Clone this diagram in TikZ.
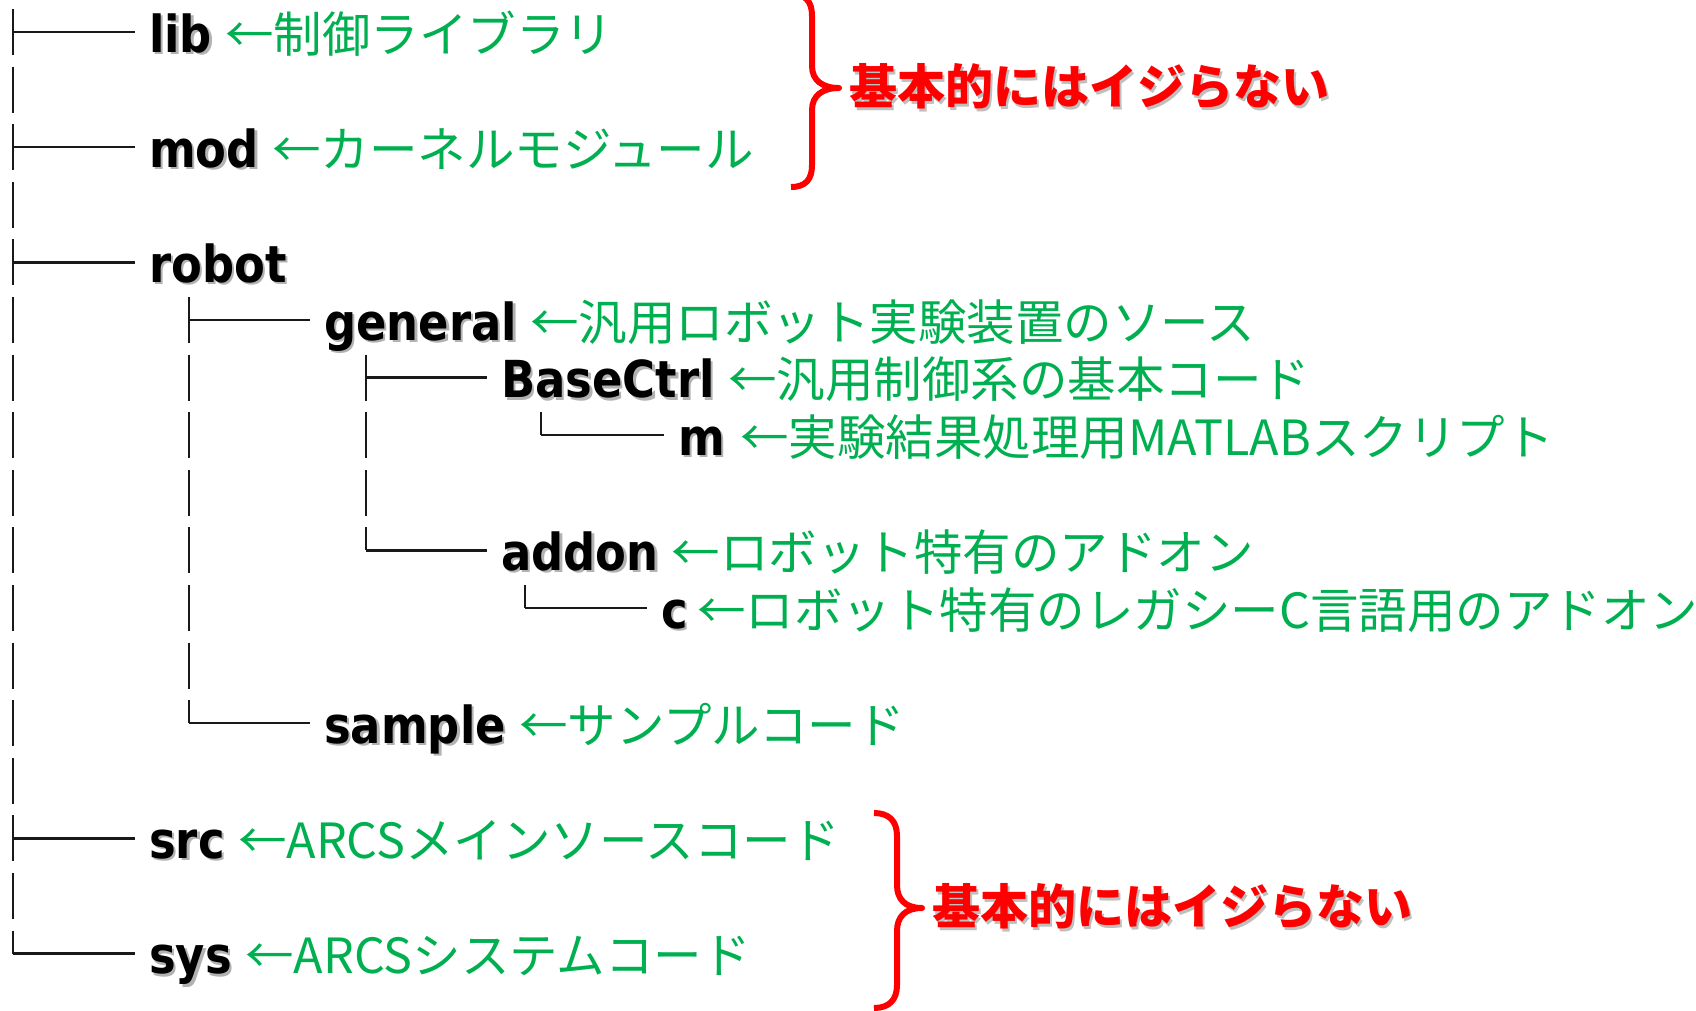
\documentclass[tikz,border=0pt]{standalone}
\usepackage{fontspec}
\newfontfamily\lblfont[FakeStretch=0.88]{DejaVu Sans}
\newfontfamily\jpfont{Noto Sans CJK JP}
\definecolor{tgreen}{HTML}{00B050}
\definecolor{tred}{HTML}{FF0000}
\newcommand{\shadowtext}[2]{\rlap{\kern2.5pt\raisebox{-2.5pt}{\color{#1}#2}}#2}
\tikzset{
  dirlabel/.style={font=\lblfont\bfseries\fontsize{51}{60}\selectfont, text=black, inner sep=0pt, anchor=base west},
  notelabel/.style={font=\jpfont\fontsize{48.5}{56}\selectfont, text=tgreen, inner sep=0pt, anchor=base west},
  warnlabel/.style={font=\jpfont\bfseries\fontsize{48}{56}\selectfont, text=tred, inner sep=0pt, anchor=west},
  trunk/.style={line width=2.5pt, draw=black!90, dash pattern=on 46pt off 11.6pt},
  branch/.style={line width=2.5pt, draw=black!90, shorten >=14pt},
  bracepath/.style={line width=6pt, draw=tred, line join=round},
}
\begin{document}
\begin{tikzpicture}[x=1pt,y=-1pt]
\useasboundingbox (0,0) rectangle (1696,1010);

% directory labels
\node[dirlabel] (lib)      at (149,52)    {\shadowtext{black!30}{lib}};
\node[dirlabel] (mod)      at (149,167.2) {\shadowtext{black!30}{mod}};
\node[dirlabel] (robot)    at (149,282.4) {\shadowtext{black!30}{robot}};
\node[dirlabel] (general)  at (324,340)   {\shadowtext{black!30}{general}};
\node[dirlabel] (basectrl) at (501,397.6) {\shadowtext{black!30}{BaseCtrl}};
\node[dirlabel] (m)        at (678,455.2) {\shadowtext{black!30}{m}};
\node[dirlabel] (addon)    at (501,570.4) {\shadowtext{black!30}{addon}};
\node[dirlabel] (c)        at (661,628)   {\shadowtext{black!30}{c}};
\node[dirlabel] (sample)   at (324,743.2) {\shadowtext{black!30}{sample}};
\node[dirlabel] (src)      at (149,858.4) {\shadowtext{black!30}{src}};
\node[dirlabel] (sys)      at (149,973.6) {\shadowtext{black!30}{sys}};

% notes
\node[notelabel] (libn)      at ([xshift=13pt]lib.base east)      {←制御ライブラリ};
\node[notelabel] (modn)      at ([xshift=13pt]mod.base east)      {←カーネルモジュール};
\node[notelabel] (generaln)  at ([xshift=13pt]general.base east)  {←汎用ロボット実験装置のソース};
\node[notelabel] (basectrln) at ([xshift=13pt]basectrl.base east) {←汎用制御系の基本コード};
\node[notelabel] (mn)        at ([xshift=15pt]m.base east)        {←実験結果処理用MATLABスクリプト};
\node[notelabel] (addonn)    at ([xshift=13pt]addon.base east)    {←ロボット特有のアドオン};
\node[notelabel] (cn)        at ([xshift=9pt]c.base east)         {←ロボット特有のレガシーC言語用のアドオン};
\node[notelabel] (samplen)   at ([xshift=13pt]sample.base east)   {←サンプルコード};
\node[notelabel] (srcn)      at ([xshift=13pt]src.base east)      {←ARCSメインソースコード};
\node[notelabel] (sysn)      at ([xshift=13pt]sys.base east)      {←ARCSシステムコード};

% tree coordinates
\coordinate (t0top) at (13,9);
\coordinate (t0) at (13,32);
\coordinate (t2) at (13,147.2);
\coordinate (t4) at (13,262.4);
\coordinate (t14) at (13,838.4);
\coordinate (t16) at (13,953.6);
\coordinate (g5top) at (189,297);
\coordinate (g5) at (189,320);
\coordinate (g12) at (189,723.2);
\coordinate (h6top) at (366,354.6);
\coordinate (h6) at (366,377.6);
\coordinate (h9) at (366,550.4);
\coordinate (k7top) at (541,412.2);
\coordinate (k7) at (541,435.2);
\coordinate (j10top) at (525,585);
\coordinate (j10) at (525,608);

% trunks
\draw[trunk] (t0top) -- (t16);
\draw[trunk] (g5top) -- (g12);
\draw[trunk] (h6top) -- (h9);
\draw[trunk] (k7top) -- (k7);
\draw[trunk] (j10top) -- (j10);

% branches
\draw[branch] (t0) -- (t0 -| lib.west);
\draw[branch] (t2) -- (t2 -| mod.west);
\draw[branch] (t4) -- (t4 -| robot.west);
\draw[branch] (t14) -- (t14 -| src.west);
\draw[branch] (t16) -- (t16 -| sys.west);
\draw[branch] (g5) -- (g5 -| general.west);
\draw[branch] (g12) -- (g12 -| sample.west);
\draw[branch] (h6) -- (h6 -| basectrl.west);
\draw[branch] (h9) -- (h9 -| addon.west);
\draw[branch] (k7) -- (k7 -| m.west);
\draw[branch] (j10) -- (j10 -| c.west);

% braces
\draw[bracepath] (791,-6) .. controls (806,-6) and (812,2) .. (812,16) -- (812,66)
  .. controls (812,80) and (822,88) .. (839,88)
  .. controls (822,88) and (812,96) .. (812,110) -- (812,165)
  .. controls (812,179) and (806,187) .. (791,187);
\node[warnlabel] (warn1) at (849,88) {\shadowtext{black!25}{基本的にはイジらない}};

\draw[bracepath] (874,813) .. controls (889,813) and (897,821) .. (897,836) -- (897,885)
  .. controls (897,899) and (905,908) .. (922,908)
  .. controls (905,908) and (897,917) .. (897,931) -- (897,985)
  .. controls (897,1000) and (889,1008) .. (874,1008);
\node[warnlabel] (warn2) at (932,908) {\shadowtext{black!25}{基本的にはイジらない}};
\end{tikzpicture}
\end{document}
